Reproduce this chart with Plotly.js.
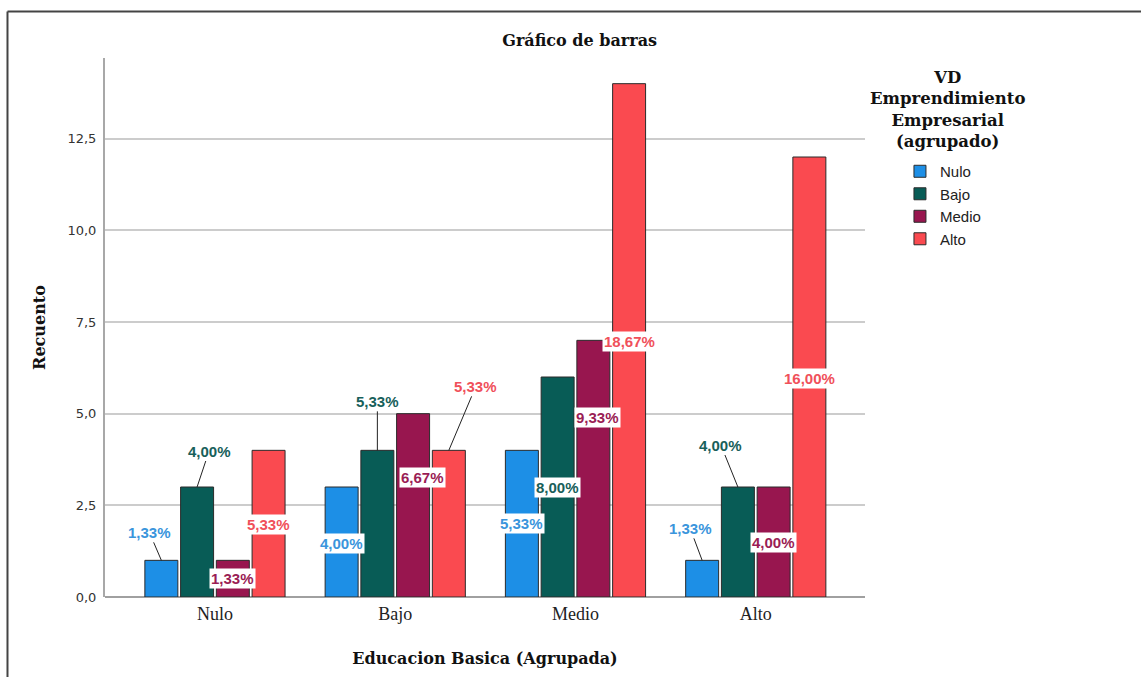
<!DOCTYPE html>
<html>
<head>
<meta charset="utf-8">
<script src="https://cdn.plot.ly/plotly-3.0.1.min.js"></script>
<style>
  html, body { margin: 0; padding: 0; background: #fff; }
  #chart { width: 1141px; height: 677px; }
</style>
</head>
<body>
<div id="chart"></div>
<script>
// ---- data ----
const categories = ['Nulo', 'Bajo', 'Medio', 'Alto'];          // Educacion Basica (Agrupada)
const seriesNames = ['Nulo', 'Bajo', 'Medio', 'Alto'];         // VD Emprendimiento Empresarial (agrupado)
const countsNulo  = [1, 3, 4, 1];
const countsBajo  = [3, 4, 6, 3];
const countsMedio = [1, 5, 7, 3];
const countsAlto  = [4, 4, 14, 12];
const pctNulo  = ['1,33%', '4,00%', '5,33%', '1,33%'];
const pctBajo  = ['4,00%', '5,33%', '8,00%', '4,00%'];
const pctMedio = ['1,33%', '6,67%', '9,33%', '4,00%'];
const pctAlto  = ['5,33%', '5,33%', '18,67%', '16,00%'];
const yTickVals = [0, 2.5, 5, 7.5, 10, 12.5];

// ---- styles ----
const barColors   = ['#1d8fe6', '#085c56', '#98164f', '#fa4a50'];
const labelColors = ['#3a95dc', '#17605a', '#9a1d55', '#f0505a'];
const BARGAP = 0.207, GROUPGAP = 0.077;
// label offsets in px from the top of each bar: [dx, dy(down positive), withLeader]
const labelOffsets = [
  [[-12, -28, true], [0, 56, false], [0, 73, false], [-12, -32, true]],
  [[12, -36, true], [0, -49, true], [0, 110, false], [-17, -42, true]],
  [[0, 18, false], [9, 64, false], [4, 77, false], [0, 55, false]],
  [[0, 74, false], [27, -64, true], [0, 258, false], [0, 221, false]]
];

const seriesCounts = [countsNulo, countsBajo, countsMedio, countsAlto];
const seriesPct = [pctNulo, pctBajo, pctMedio, pctAlto];

const traces = seriesNames.map((name, s) => ({
  type: 'bar',
  name: name,
  x: categories,
  y: seriesCounts[s],
  legendgroup: 'g' + s,
  marker: { color: barColors[s], line: { color: '#2b2b2b', width: 1 } },
  hoverinfo: 'x+y+name'
}));

const slot = (1 - BARGAP) / seriesNames.length;
const annotations = [];
seriesNames.forEach((name, s) => {
  categories.forEach((cat, c) => {
    const off = labelOffsets[s][c];
    const xPos = c + (s - (seriesNames.length - 1) / 2) * slot;
    const base = {
      x: xPos, y: seriesCounts[s][c], xref: 'x', yref: 'y',
      text: seriesPct[s][c],
      font: { family: 'Liberation Sans, Arial, sans-serif', size: 15, color: labelColors[s], weight: 'bold' },
      bgcolor: '#ffffff', borderpad: 1
    };
    if (off[2]) {
      Object.assign(base, { showarrow: true, arrowhead: 0, arrowwidth: 1, arrowcolor: '#222', standoff: 0, ax: off[0], ay: off[1] });
    } else {
      Object.assign(base, { showarrow: false, xshift: off[0], yshift: -off[1] });
    }
    annotations.push(base);
  });
});

// legend title (drawn as a centred annotation above the legend entries)
annotations.push({
  xref: 'paper', yref: 'paper', x: 1.108, y: 0.904, xanchor: 'center', yanchor: 'middle',
  showarrow: false, align: 'center',
  text: '<b>VD<br>Emprendimiento<br>Empresarial<br>(agrupado)</b>',
  font: { family: 'DejaVu Serif, serif', size: 16.5, color: '#111' }
});

const serif = 'DejaVu Serif, serif';
const layout = {
  width: 1141, height: 677,
  paper_bgcolor: '#fff', plot_bgcolor: '#fff',
  margin: { l: 105, r: 276, t: 58, b: 80, pad: 0 },
  separators: ',.',
  barmode: 'group', bargap: BARGAP, bargroupgap: GROUPGAP,
  title: {
    text: '<b>Gráfico de barras</b>',
    font: { family: serif, size: 16, color: '#111' },
    xref: 'container', yref: 'container', x: 0.508, y: 0.941, xanchor: 'center', yanchor: 'middle'
  },
  xaxis: {
    type: 'category', range: [-0.61, 3.606],
    showgrid: false, showline: false, zeroline: false, ticks: '',
    ticklabelstandoff: 4,
    tickfont: { family: 'Liberation Serif, serif', size: 18, color: '#222' },
    title: { text: '<b>Educacion Basica (Agrupada)</b>', font: { family: serif, size: 16, color: '#111' }, standoff: 29 },
    automargin: false, fixedrange: true
  },
  yaxis: {
    range: [0, 14.7], tickvals: yTickVals, tickformat: '.1f',
    showgrid: true, gridcolor: '#cccccc', gridwidth: 1.5,
    showline: true, linecolor: '#a8a8a8', linewidth: 2,
    zeroline: true, zerolinecolor: '#a0a0a0', zerolinewidth: 2,
    ticks: '', ticklabelstandoff: 4,
    tickfont: { family: 'DejaVu Sans, sans-serif', size: 13, color: '#333' },
    title: { text: '<b>Recuento</b>', font: { family: serif, size: 16, color: '#111' }, standoff: 18 },
    automargin: false, fixedrange: true
  },
  showlegend: true,
  legend: {
    x: 1.046, y: 0.820, xanchor: 'left', yanchor: 'top',
    traceorder: 'grouped', tracegroupgap: 0,
    font: { family: 'Liberation Sans, Arial, sans-serif', size: 15, color: '#222' },
    bgcolor: 'rgba(0,0,0,0)', borderwidth: 0
  },
  annotations: annotations,
  shapes: [
    { type: 'line', xref: 'paper', yref: 'paper', x0: -0.1283, x1: 1.6, y0: 1.0863, y1: 1.0863, line: { color: '#444', width: 2 } },
    { type: 'line', xref: 'paper', yref: 'paper', x0: -0.1283, x1: -0.1283, y0: 1.0863, y1: -0.2, line: { color: '#444', width: 2 } }
  ]
};

Plotly.newPlot('chart', traces, layout, { displayModeBar: false, staticPlot: false });
</script>
</body>
</html>
